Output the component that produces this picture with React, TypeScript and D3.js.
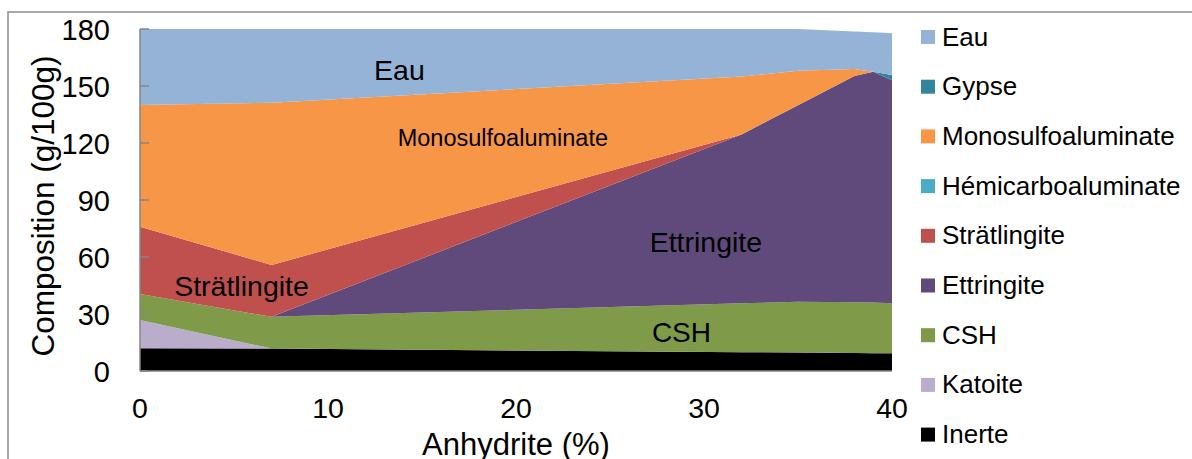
import * as d3 from 'd3'

const WIDTH = 1192
const HEIGHT = 459
const FONT = '"Liberation Sans", Arial, sans-serif'

// anhydrite content (%)
const anhydrite = [0, 7, 32, 35, 38, 39, 40]

// phase amounts (g/100g), stacked bottom to top
const inerte = [12, 11.8, 9.9, 9.7, 9.5, 9.4, 9.3]
const katoite = [14.8, 0, 0, 0, 0, 0, 0]
const csh = [13.7, 16.7, 25.7, 26.8, 26.7, 26.6, 26.3]
const ettringite = [0, 0, 88.9, 103.4, 119.1, 121.5, 117.4]
const stratlingite = [35.4, 27.3, 0, 0, 0, 0, 0]
const hemicarbo = [0, 0, 0, 0, 0, 0, 0]
const monosulfo = [64.1, 85.4, 30.5, 18.1, 3.7, 0, 0]
const gypse = [0, 0, 0, 0, 0, 0, 2.8]
const eau = [40, 38.8, 25, 22, 19.7, 20.8, 21.9]

const seriesNames = [
  'Inerte',
  'Katoite',
  'CSH',
  'Ettringite',
  'Strätlingite',
  'Hémicarboaluminate',
  'Monosulfoaluminate',
  'Gypse',
  'Eau',
]
const seriesValues = [inerte, katoite, csh, ettringite, stratlingite, hemicarbo, monosulfo, gypse, eau]
const colors = ['#000000', '#b9adcb', '#7f9a48', '#604a7b', '#c0504d', '#4bacc6', '#f79646', '#31859c', '#95b3d7']

const yTicks = [0, 30, 60, 90, 120, 150, 180]
const xTicks = [0, 10, 20, 30, 40]

// labels written inside the areas
const areaLabels = [
  { text: 'Eau', x: 13.8, y: 153, size: 28.5 },
  { text: 'Monosulfoaluminate', x: 19.3, y: 118.5, size: 23.5 },
  { text: 'Ettringite', x: 30.1, y: 62.5, size: 28.5 },
  { text: 'CSH', x: 28.8, y: 15.5, size: 28 },
  { text: 'Strätlingite', x: 5.4, y: 39.5, size: 28.5 },
]

export default function App() {
  const x = d3.scaleLinear([0, 40], [140, 892])
  const y = d3.scaleLinear([0, 180], [371, 29])

  const table = anhydrite.map((a, i) => {
    const row: Record<string, number> = { a }
    seriesNames.forEach((n, k) => (row[n] = seriesValues[k][i]))
    return row
  })
  const stacked = d3.stack<Record<string, number>>().keys(seriesNames)(table)
  const area = d3
    .area<d3.SeriesPoint<Record<string, number>>>()
    .x((d) => x(d.data.a))
    .y0((d) => y(d[0]))
    .y1((d) => y(d[1]))

  const legendOrder = [...seriesNames].reverse()

  return (
    <svg
      width={WIDTH}
      height={HEIGHT}
      style={{ position: 'absolute', left: 0, top: 0, background: '#fff' }}
      fontFamily={FONT}
    >
      <rect x={8} y={12} width={1200} height={470} fill="#fff" stroke="#8c8c8c" strokeWidth={1.5} />

      {stacked.map((s, i) => (
        <path key={s.key} d={area(s) ?? ''} fill={colors[i]} />
      ))}

      {/* axes */}
      <line x1={x(0)} x2={x(0)} y1={y(180)} y2={y(0)} stroke="#868686" strokeWidth={1.5} />
      <line x1={x(0)} x2={x(40)} y1={y(0)} y2={y(0)} stroke="#868686" strokeWidth={1.5} />
      {yTicks.map((t) => (
        <g key={t}>
          <line x1={x(0)} x2={x(0) + 9} y1={y(t)} y2={y(t)} stroke="#868686" strokeWidth={1.5} />
          <text x={110} y={y(t) + 10.5} textAnchor="end" fontSize={29}>
            {t}
          </text>
        </g>
      ))}
      {xTicks.map((t) => (
        <text key={t} x={x(t)} y={418} textAnchor="middle" fontSize={28.5}>
          {t}
        </text>
      ))}

      <text x={(x(0) + x(40)) / 2} y={455} textAnchor="middle" fontSize={31}>
        Anhydrite (%)
      </text>
      <text
        transform={`translate(54,${(y(0) + y(180)) / 2 + 6}) rotate(-90)`}
        textAnchor="middle"
        fontSize={31.5}
      >
        Composition (g/100g)
      </text>

      {areaLabels.map((l) => (
        <text key={l.text} x={x(l.x)} y={y(l.y)} textAnchor="middle" fontSize={l.size}>
          {l.text}
        </text>
      ))}

      {/* legend */}
      {legendOrder.map((n, i) => {
        const cy = 37 + i * 49.7
        return (
          <g key={n}>
            <rect x={921} y={cy - 7} width={14} height={14} fill={colors[seriesNames.indexOf(n)]} />
            <text x={942} y={cy + 8.5} fontSize={26}>
              {n}
            </text>
          </g>
        )
      })}
    </svg>
  )
}
